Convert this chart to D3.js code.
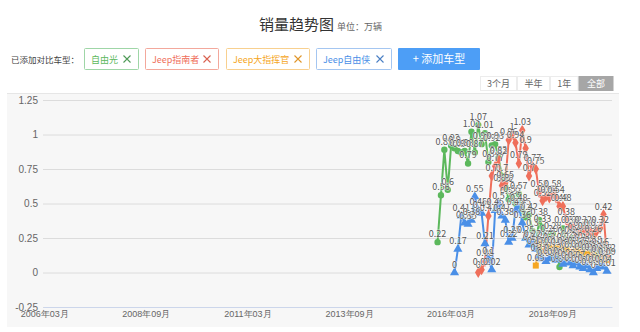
<!DOCTYPE html>
<html><head><meta charset="utf-8">
<script src="https://cdn.jsdelivr.net/npm/d3@7"></script>
<style>
html,body{margin:0;padding:0;background:#fff;}
svg{display:block;font-family:"Noto Sans CJK SC","Noto Sans",sans-serif;}
</style></head><body>
<svg id="c" width="640" height="332"></svg>
<script>
// ---------- data ----------
const axisStart = "2006-03";
const axisEnd = "2020-02";
const tickLabels = ["2006年03月","2008年09月","2011年03月","2013年09月","2016年03月","2018年09月"];
const yTicks = [-0.25, 0, 0.25, 0.5, 0.75, 1, 1.25];
const seriesNames = ["自由光","Jeep指南者","Jeep大指挥官","Jeep自由侠"];
const seriesStarts = ["2015-11","2016-11","2018-04","2016-04"];
const ziyouguang = [0.22,0.56,0.89,0.6,0.92,0.9,0.88,0.87,0.88,0.79,1.02,0.87,1.07,0.93,1.01,0.8,0.92,0.93,0.83,0.7,0.62,0.53,0.55,0.5,0.57,0.45,0.4,0.42,0.3,0.2,0.38,0.33,0.22,0.26,0.28,0.18,0.04,0.32,0.24,0.22,0.25,0.18,0.2,0.19,0.21,0.15,0.18,0.14,0.16,0.12,0.1];
const zhinanzhe = [0,0.02,0.08,0.41,0.7,0.77,0.82,0.63,0.65,0.96,1,0.94,0.79,1.03,0.9,0.7,0.77,0.75,0.58,0.52,0.55,0.54,0.58,0.54,0.48,0.48,0.38,0.32,0.32,0.27,0.3,0.32,0.28,0.3,0.26,0.3,0.32,0.42,0.12];
const dazhihuiguan = [0.05,0.21,0.15,0.18,0.2,0.17,0.18,0.16,0.2,0.17,0.15,0.14,0.17,0.15,0.13,0.14,0.12,0.13,0.1,0.11,0.1,0.09];
const ziyouxia = [0,0.17,0.41,0.36,0.35,0.38,0.55,0.45,0.43,0.21,0.1,0.02,0.45,0.5,0.41,0.38,0.22,0.25,0.45,0.48,0.36,0.25,0.2,0.22,0.17,0.12,0.1,0.08,0.1,0.12,0.09,0.1,0.06,0.08,0.07,0.05,0.07,0.04,0.03,0.05,0.02,0,0.03,0.05,0.04,0.01];
const rangeButtons = ["3个月","半年","1年","全部"];

// ---------- styles ----------
const colors = ["#5cb85c","#ef6f5b","#f5a623","#4a8fe7"];
const xColors = ["#4f9a57","#d9614f","#e0962a","#4a7fc4"];
const borders = ["#9fd6a7","#f3a89c","#f8d08f","#a4c6f1"];
const symbols = [d3.symbolCircle, d3.symbolDiamond, d3.symbolSquare, d3.symbolTriangle];
const symSizes = [32, 36, 36, 36];
const allValues = [ziyouguang, zhinanzhe, dazhihuiguan, ziyouxia];

const svg = d3.select("#c");
const parseM = d3.timeParse("%Y-%m");
const fmtM = d3.timeFormat("%Y年%m月");
const months = d3.timeMonth.range(parseM(axisStart), d3.timeMonth.offset(parseM(axisEnd), 1)).map(fmtM);

const x = d3.scaleBand().domain(months).range([43, 612]);
const y = d3.scaleLinear().domain([-0.25, 1.25]).range([307, 100]);
const cx = c => x(c) + x.bandwidth() / 2;

// title
svg.append("text").attr("x", 259).attr("y", 30).attr("font-size", 15).attr("fill", "#333").text("销量趋势图");
svg.append("text").attr("x", 337).attr("y", 30).attr("font-size", 9).attr("fill", "#666").text("单位：万辆");

// legend row
svg.append("text").attr("x", 11).attr("y", 62.5).attr("font-size", 8.5).attr("fill", "#444").text("已添加对比车型：");
const boxX = [84, 145, 226, 316], boxW = [54, 73, 83, 75];
seriesNames.forEach((n, i) => {
  const g = svg.append("g");
  g.append("rect").attr("x", boxX[i] + 0.5).attr("y", 48.5).attr("width", boxW[i]).attr("height", 21)
    .attr("fill", "#fff").attr("stroke", borders[i]).attr("stroke-width", 1).attr("rx", 1);
  g.append("text").attr("x", boxX[i] + 7).attr("y", 62.5).attr("font-size", 9).attr("fill", colors[i]).text(n);
  const xc = boxX[i] + boxW[i] - 11, yc = 59;
  g.append("path").attr("d", `M${xc - 3.5},${yc - 3.5}L${xc + 3.5},${yc + 3.5}M${xc + 3.5},${yc - 3.5}L${xc - 3.5},${yc + 3.5}`)
    .attr("stroke", xColors[i]).attr("stroke-width", 1.1).attr("fill", "none");
});
svg.append("rect").attr("x", 398).attr("y", 48).attr("width", 82).attr("height", 22).attr("fill", "#4d9ef6").attr("rx", 1);
svg.append("text").attr("x", 439).attr("y", 63).attr("text-anchor", "middle").attr("font-size", 11).attr("fill", "#fff").text("+ 添加车型");

// range buttons
const rbX = [480, 517, 550, 578.5], rbW = [37, 33, 28.5, 35];
rangeButtons.forEach((t, i) => {
  const active = i === rangeButtons.length - 1;
  svg.append("rect").attr("x", rbX[i] + 0.5).attr("y", 76.5).attr("width", rbW[i] - 1).attr("height", 14)
    .attr("fill", active ? "#a6a6a6" : "#fff").attr("stroke", active ? "#a6a6a6" : "#ececec");
  svg.append("text").attr("x", rbX[i] + rbW[i] / 2).attr("y", 86.8).attr("text-anchor", "middle")
    .attr("font-size", 9).attr("fill", active ? "#fff" : "#666").text(t);
});

// panel
svg.append("rect").attr("x", 7).attr("y", 93).attr("width", 612).attr("height", 234).attr("fill", "#f7f7f7");
svg.append("line").attr("x1", 7).attr("x2", 619).attr("y1", 93.5).attr("y2", 93.5).attr("stroke", "#e6e6e6");

// y grid + labels
const ga = svg.append("g").attr("transform", "translate(43,0)")
  .call(d3.axisLeft(y).tickValues(yTicks).tickSize(-569).tickPadding(5).tickFormat(d => String(d)));
ga.select(".domain").remove();
ga.selectAll("line").attr("stroke", "#dcdcdc");
ga.selectAll("text").attr("fill", "#666").attr("font-size", 10).attr("font-family", null);

// x axis
const gx = svg.append("g").attr("transform", "translate(0,307)")
  .call(d3.axisBottom(x).tickValues(tickLabels).tickSize(0).tickPadding(4));
gx.select(".domain").attr("stroke", "#ccd6eb");
gx.selectAll("text").attr("fill", "#666").attr("font-size", 9).attr("font-family", null);

// series
const series = seriesNames.map((n, i) => {
  const s = months.indexOf(fmtM(parseM(seriesStarts[i])));
  return allValues[i].map((v, j) => ({ c: months[s + j], v }));
});
const line = d3.line().x(d => cx(d.c)).y(d => y(d.v));
series.forEach((pts, i) => {
  svg.append("path").datum(pts).attr("d", line).attr("fill", "none")
    .attr("stroke", colors[i]).attr("stroke-width", 2).attr("stroke-linejoin", "round");
  svg.append("g").selectAll("path").data(pts).join("path")
    .attr("d", d3.symbol().type(symbols[i]).size(symSizes[i]))
    .attr("transform", d => `translate(${cx(d.c)},${y(d.v)})`)
    .attr("fill", colors[i]);
});
series.forEach((pts, i) => {
  svg.append("g").selectAll("text").data(pts).join("text")
    .attr("x", d => cx(d.c)).attr("y", d => y(d.v) - 5)
    .attr("text-anchor", "middle").attr("font-size", 9).attr("fill", "#555")
    .attr("stroke", "#fff").attr("stroke-width", 1.2).attr("stroke-opacity", 0.7)
    .attr("paint-order", "stroke").text(d => String(d.v));
});
</script></body></html>
